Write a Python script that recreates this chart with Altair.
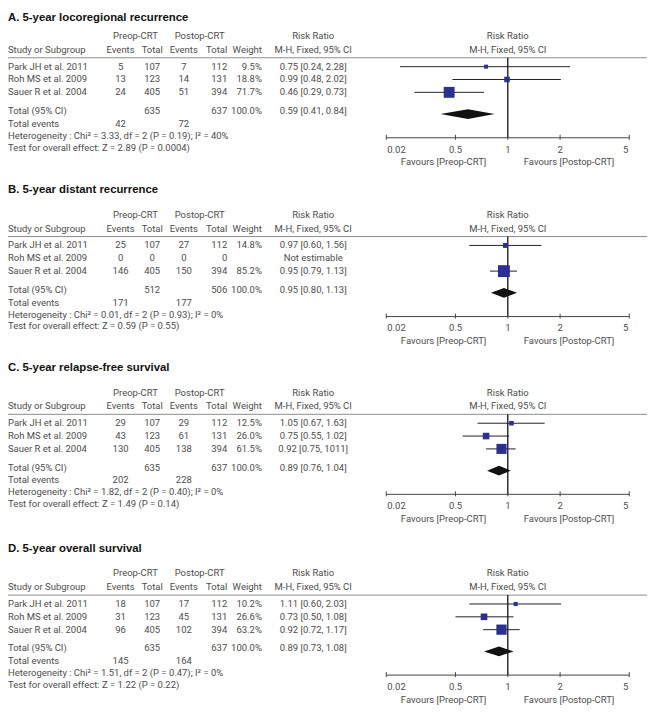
import altair as alt
import pandas as pd

# ---------------- data ----------------
panel_titles = ["A. 5-year locoregional recurrence", "B. 5-year distant recurrence",
                "C. 5-year relapse-free survival", "D. 5-year overall survival"]
studies = ["Park JH et al. 2011", "Roh MS et al. 2009", "Sauer R et al. 2004"]

pre_events = [[5, 13, 24], [25, 0, 146], [29, 43, 130], [18, 31, 96]]
pre_totals = [[107, 123, 405], [107, 0, 405], [107, 123, 405], [107, 123, 405]]
post_events = [[7, 14, 51], [27, 0, 150], [29, 61, 138], [17, 45, 102]]
post_totals = [[112, 131, 394], [112, 0, 394], [112, 131, 394], [112, 131, 394]]
weights = [[9.5, 18.8, 71.7], [14.8, None, 85.2], [12.5, 26.0, 61.5], [10.2, 26.6, 63.2]]
rr = [[0.75, 0.99, 0.46], [0.97, None, 0.95], [1.05, 0.75, 0.92], [1.11, 0.73, 0.92]]
rr_lo = [[0.24, 0.48, 0.29], [0.60, None, 0.79], [0.67, 0.55, 0.75], [0.60, 0.50, 0.72]]
rr_hi = [[2.28, 2.02, 0.73], [1.56, None, 1.13], [1.63, 1.02, 1.11], [2.03, 1.08, 1.17]]
rr_text = [["0.75 [0.24, 2.28]", "0.99 [0.48, 2.02]", "0.46 [0.29, 0.73]"],
           ["0.97 [0.60, 1.56]", "Not estimable", "0.95 [0.79, 1.13]"],
           ["1.05 [0.67, 1.63]", "0.75 [0.55, 1.02]", "0.92 [0.75, 1011]"],
           ["1.11 [0.60, 2.03]", "0.73 [0.50, 1.08]", "0.92 [0.72, 1.17]"]]
total_pre_n = [635, 512, 635, 635]
total_post_n = [637, 506, 637, 637]
total_rr = [0.59, 0.95, 0.89, 0.89]
total_lo = [0.41, 0.80, 0.76, 0.73]
total_hi = [0.84, 1.13, 1.04, 1.08]
total_rr_text = ["0.59 [0.41, 0.84]", "0.95 [0.80, 1.13]", "0.89 [0.76, 1.04]", "0.89 [0.73, 1.08]"]
total_pre_events = [42, 171, 202, 145]
total_post_events = [72, 177, 228, 164]
heterogeneity = ["Heterogeneity : Chi² = 3.33, df = 2 (P = 0.19); I² = 40%",
                 "Heterogeneity : Chi² = 0.01, df = 2 (P = 0.93); I² = 0%",
                 "Heterogeneity : Chi² = 1.82, df = 2 (P = 0.40); I² = 0%",
                 "Heterogeneity : Chi² = 1.51, df = 2 (P = 0.47); I² = 0%"]
overall_test = ["Test for overall effect: Z = 2.89 (P = 0.0004)",
                "Test for overall effect: Z = 0.59 (P = 0.55)",
                "Test for overall effect: Z = 1.49 (P = 0.14)",
                "Test for overall effect: Z = 1.22 (P = 0.22)"]
tick_values = [0.2, 0.5, 1, 2, 5]
tick_labels = ["0.02", "0.5", "1", "2", "5"]

# ---------------- layout ----------------
W, H = 651, 706
panel_top = [-1, 180, 360, 543]
OFF = dict(h1=25, h2=39, line=47, row0=56, step=13, total=101, diamond=104,
           events=114, het=126, test=138, axis=128, ticklab=140, fav=153)

cells, rows, diamonds, hlines, vlines, axes, ticks, ticklabs = [], [], [], [], [], [], [], []
for p in range(4):
    b = panel_top[p]
    cells.append(dict(col="title", text=panel_titles[p], y=max(b, 6)))
    for k, t in [("pre_grp", "Preop-CRT"), ("post_grp", "Postop-CRT"), ("rr", "Risk Ratio"),
                 ("forest_hdr", "Risk Ratio")]:
        cells.append(dict(col=k, text=t, y=b + OFF["h1"]))
    for k, t in [("study", "Study or Subgroup"), ("pre_e", "Events"), ("pre_t", "Total"),
                 ("post_e", "Events"), ("post_t", "Total"), ("weight", "Weight"),
                 ("rr", "M-H, Fixed, 95% CI"), ("forest_hdr", "M-H, Fixed, 95% CI")]:
        cells.append(dict(col=k, text=t, y=b + OFF["h2"]))
    for i, s in enumerate(studies):
        y = b + OFF["row0"] + OFF["step"] * i
        w = weights[p][i]
        vals = {"study": s, "pre_e": str(pre_events[p][i]), "pre_t": str(pre_totals[p][i]),
                "post_e": str(post_events[p][i]), "post_t": str(post_totals[p][i]),
                "weight": "" if w is None else f"{w:.1f}%", "rr": rr_text[p][i]}
        for k, t in vals.items():
            cells.append(dict(col=k, text=t, y=y))
        if rr[p][i] is not None:
            rows.append(dict(panel=p, y=y, rr=rr[p][i], lo=rr_lo[p][i], hi=rr_hi[p][i], w=w))
    yt = b + OFF["total"]
    for k, t in {"study": "Total (95% CI)", "pre_t": str(total_pre_n[p]), "post_t": str(total_post_n[p]),
                 "weight": "100.0%", "rr": total_rr_text[p]}.items():
        cells.append(dict(col=k, text=t, y=yt))
    ye = b + OFF["events"]
    for k, t in {"study": "Total events", "pre_e": str(total_pre_events[p]),
                 "post_e": str(total_post_events[p])}.items():
        cells.append(dict(col=k, text=t, y=ye))
    cells.append(dict(col="study", text=heterogeneity[p], y=b + OFF["het"]))
    cells.append(dict(col="study", text=overall_test[p], y=b + OFF["test"]))
    cells.append(dict(col="fav_l", text="Favours [Preop-CRT]", y=b + OFF["fav"]))
    cells.append(dict(col="fav_r", text="Favours [Postop-CRT]", y=b + OFF["fav"]))
    yd = b + OFF["diamond"]
    diamonds += [dict(panel=p, x=total_lo[p], y=yd, y2=yd),
                 dict(panel=p, x=total_rr[p], y=yd - 5, y2=yd + 5),
                 dict(panel=p, x=total_hi[p], y=yd, y2=yd)]
    hlines.append(dict(y=b + OFF["line"]))
    vlines.append(dict(v=1.0, y=b + OFF["line"], y2=b + OFF["axis"]))
    axes.append(dict(lo=tick_values[0], hi=tick_values[-1], y=b + OFF["axis"]))
    for j, (tv, tl) in enumerate(zip(tick_values, tick_labels)):
        ticks.append(dict(v=tv, y=b + OFF["axis"] - 3, y2=b + OFF["axis"] + 2))
        pos = "first" if j == 0 else ("last" if j == len(tick_values) - 1 else "mid")
        ticklabs.append(dict(v=tv, text=tl, pos=pos, y=b + OFF["ticklab"]))

cells = pd.DataFrame(cells)
rows = pd.DataFrame(rows)
diamonds = pd.DataFrame(diamonds)
hlines = pd.DataFrame(hlines)
vlines = pd.DataFrame(vlines)
axes = pd.DataFrame(axes)
ticks = pd.DataFrame(ticks)
ticklabs = pd.DataFrame(ticklabs)

FONT = "Roboto"
TXT = dict(font=FONT, fontSize=9.6, color="#4d4d4d", baseline="middle")
yscale = alt.Scale(domain=[0, H], range=[0, H])
xscale = alt.Scale(type="log", domain=[0.2, 5], range=[383, 629])
Y = alt.Y("y:Q", scale=yscale, axis=None)
Y2 = alt.Y2("y2:Q")

colspec = {
    "study": (0, "left"), "pre_grp": (129, "center"), "post_grp": (194, "center"),
    "pre_e": (114, "center"), "pre_t": (146, "center"), "post_e": (178, "center"),
    "post_t": (222, "right"), "weight": (257, "right"), "rr": (309, "center"),
    "forest_hdr": (506, "center"), "fav_l": (441, "center"), "fav_r": (568, "center"),
}

layers = []
layers.append(alt.Chart(hlines).mark_rule(color="#8c8c8c", strokeWidth=1).encode(
    x=alt.value(0), x2=alt.value(647), y=Y))
layers.append(alt.Chart(vlines).mark_rule(color="#111", strokeWidth=1.3).encode(
    x=alt.X("v:Q", scale=xscale, axis=None), y=Y, y2=Y2))
layers.append(alt.Chart(axes).mark_rule(color="#444", strokeWidth=1).encode(
    x=alt.X("lo:Q", scale=xscale, axis=None), x2="hi:Q", y=Y))
layers.append(alt.Chart(ticks).mark_rule(color="#444", strokeWidth=1).encode(
    x=alt.X("v:Q", scale=xscale, axis=None), y=Y, y2=Y2))
for pos, align, dx in [("first", "left", 1), ("mid", "center", 0), ("last", "right", -1)]:
    layers.append(alt.Chart(ticklabs).transform_filter(alt.datum.pos == pos).mark_text(
        align=align, dx=dx, **TXT).encode(
        x=alt.X("v:Q", scale=xscale, axis=None), y=Y, text="text:N"))
layers.append(alt.Chart(rows).mark_rule(color="#222", strokeWidth=1).encode(
    x=alt.X("lo:Q", scale=xscale, axis=None), x2="hi:Q", y=Y))
layers.append(alt.Chart(rows).mark_square(color="#2b3192", opacity=1, filled=True).encode(
    x=alt.X("rr:Q", scale=xscale, axis=None), y=Y,
    size=alt.Size("w:Q", scale=alt.Scale(domain=[0, 100], range=[0, 170]), legend=None)))
layers.append(alt.Chart(diamonds).mark_area(color="#111", opacity=1).encode(
    x=alt.X("x:Q", scale=xscale, axis=None), y=Y, y2=Y2, detail="panel:N"))
for key, (xpx, align) in colspec.items():
    layers.append(alt.Chart(cells).transform_filter(alt.datum.col == key).mark_text(
        align=align, **TXT).encode(x=alt.value(xpx), y=Y, text="text:N"))
layers.append(alt.Chart(cells).transform_filter(alt.datum.col == "title").mark_text(
    align="left", baseline="middle", font="Liberation Sans", fontSize=11.5, fontWeight="bold",
    color="#111").encode(x=alt.value(0), y=Y, text="text:N"))

chart = alt.layer(*layers).properties(
    width=W, height=H, padding=0, autosize=alt.AutoSizeParams(type="none")
).configure_view(stroke=None)

chart.save("out.html", embed_options={"renderer": "svg", "actions": False})
